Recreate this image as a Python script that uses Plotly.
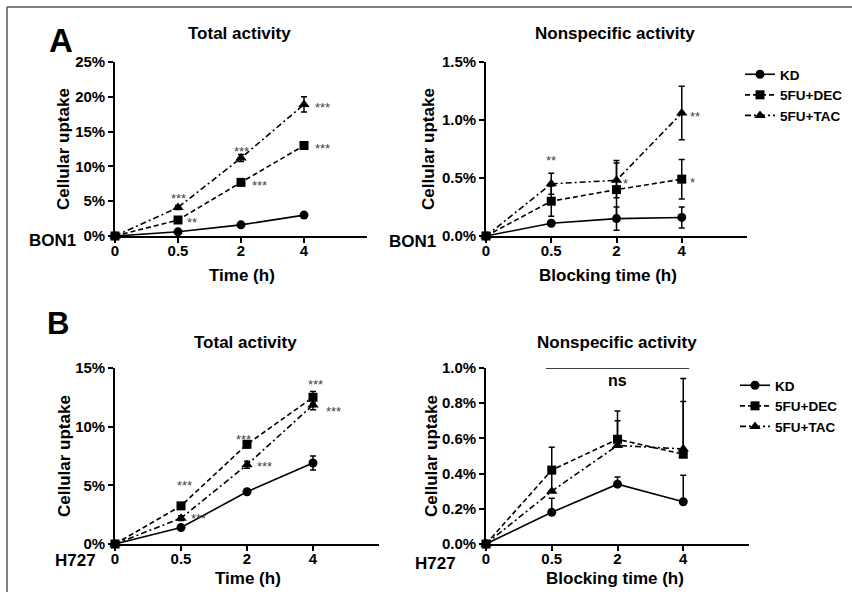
import plotly.graph_objects as go

W, H = 852, 601

# ---------------- data ----------------
time_labels = ["0", "0.5", "2", "4"]
series_names = ["KD", "5FU+DEC", "5FU+TAC"]

# Panel A (BON1) total activity, % uptake
a_total_kd = [0, 0.6, 1.6, 3.0]
a_total_dec = [0, 2.3, 7.7, 13.0]
a_total_tac = [0, 4.1, 11.2, 18.9]
a_total_kd_err = [0, 0.05, 0.1, 0.2]
a_total_dec_err = [0, 0.2, 0.3, 0.3]
a_total_tac_err = [0, 0.3, 0.5, 1.1]

# Panel A (BON1) nonspecific activity
a_ns_kd = [0, 0.11, 0.15, 0.16]
a_ns_dec = [0, 0.30, 0.40, 0.49]
a_ns_tac = [0, 0.45, 0.48, 1.06]
a_ns_kd_err = [0, 0.02, 0.10, 0.09]
a_ns_dec_err = [0, 0.13, 0.25, 0.17]
a_ns_tac_err = [0, 0.09, 0.15, 0.23]

# Panel B (H727) total activity
b_total_kd = [0, 1.4, 4.45, 6.9]
b_total_dec = [0, 3.25, 8.5, 12.5]
b_total_tac = [0, 2.2, 6.75, 11.85]
b_total_kd_err = [0, 0.1, 0.15, 0.6]
b_total_dec_err = [0, 0.2, 0.3, 0.5]
b_total_tac_err = [0, 0.2, 0.3, 0.4]

# Panel B (H727) nonspecific activity (upper error only)
b_ns_kd = [0, 0.18, 0.34, 0.24]
b_ns_dec = [0, 0.42, 0.595, 0.51]
b_ns_tac = [0, 0.30, 0.56, 0.54]
b_ns_kd_err = [0, 0.08, 0.04, 0.15]
b_ns_dec_err = [0, 0.13, 0.16, 0.43]
b_ns_tac_err = [0, 0.10, 0.14, 0.27]

# ---------------- styles ----------------
FONT = "Liberation Sans, Arial, sans-serif"
styles = {
    "KD": dict(symbol="circle", size=9, dash="solid"),
    "5FU+DEC": dict(symbol="square", size=9, dash="5px,3px"),
    "5FU+TAC": dict(symbol="triangle-up", size=10, dash="6px,3px,2px,3px"),
}

fig = go.Figure()


def add_panel(xa, ya, values, errs, legend=None, up_only=False):
    for name, yv, ev in zip(series_names, values, errs):
        st = styles[name]
        err = dict(type="data", array=ev, color="black", thickness=1.5, width=3, visible=True)
        if up_only:
            err["symmetric"] = False
            err["arrayminus"] = [0] * len(ev)
        fig.add_trace(go.Scatter(
            x=time_labels, y=yv, name=name, mode="lines+markers",
            xaxis=xa, yaxis=ya,
            line=dict(color="black", width=1.6, dash=st["dash"]),
            marker=dict(symbol=st["symbol"], size=st["size"], color="black"),
            error_y=err, cliponaxis=False,
            showlegend=legend is not None,
            legend=legend if legend else "legend",
        ))


add_panel("x", "y", [a_total_kd, a_total_dec, a_total_tac],
          [a_total_kd_err, a_total_dec_err, a_total_tac_err])
add_panel("x2", "y2", [a_ns_kd, a_ns_dec, a_ns_tac],
          [a_ns_kd_err, a_ns_dec_err, a_ns_tac_err], legend="legend")
add_panel("x3", "y3", [b_total_kd, b_total_dec, b_total_tac],
          [b_total_kd_err, b_total_dec_err, b_total_tac_err])
add_panel("x4", "y4", [b_ns_kd, b_ns_dec, b_ns_tac],
          [b_ns_kd_err, b_ns_dec_err, b_ns_tac_err], legend="legend2", up_only=True)


def px_x(p):
    return p / W


def px_y(p):
    return 1 - p / H


tickfont = dict(family=FONT, size=15, color="black", weight="bold")
common_x = dict(type="category", range=[0, 4], showline=True, linecolor="black", linewidth=1.6,
                ticks="outside", ticklen=5, tickwidth=1.6, tickcolor="black", automargin=False,
                showgrid=False, zeroline=False, tickfont=tickfont, fixedrange=True,
                ticklabelstandoff=-5)
common_y = dict(showline=True, linecolor="black", linewidth=1.6, automargin=False,
                ticks="outside", ticklen=5, tickwidth=1.6, tickcolor="black",
                showgrid=False, zeroline=False, tickfont=tickfont, ticksuffix="%",
                fixedrange=True)

legfont = dict(family=FONT, size=13.5, color="black", weight="bold")
fig.update_layout(
    width=W, height=H, margin=dict(l=0, r=0, t=0, b=0, pad=0, autoexpand=False),
    paper_bgcolor="white", plot_bgcolor="white",
    xaxis=dict(common_x, domain=[px_x(115), px_x(367)], anchor="y"),
    yaxis=dict(common_y, domain=[px_y(236), px_y(62)], anchor="x", range=[0, 25],
               tickmode="linear", tick0=0, dtick=5),
    xaxis2=dict(common_x, domain=[px_x(486), px_x(747)], anchor="y2"),
    yaxis2=dict(common_y, domain=[px_y(236), px_y(62)], anchor="x2", range=[0, 1.5],
                tickmode="linear", tick0=0, dtick=0.5, tickformat=".1f"),
    xaxis3=dict(common_x, domain=[px_x(115), px_x(379)], anchor="y3"),
    yaxis3=dict(common_y, domain=[px_y(544), px_y(368)], anchor="x3", range=[0, 15],
                tickmode="linear", tick0=0, dtick=5),
    xaxis4=dict(common_x, domain=[px_x(486), px_x(749)], anchor="y4"),
    yaxis4=dict(common_y, domain=[px_y(544), px_y(368)], anchor="x4", range=[0, 1.0],
                tickmode="linear", tick0=0, dtick=0.2, tickformat=".1f"),
    legend=dict(x=px_x(740), y=px_y(59), xanchor="left", yanchor="top",
                font=legfont, itemwidth=30, tracegroupgap=0, bgcolor="rgba(0,0,0,0)"),
    legend2=dict(x=px_x(735), y=px_y(370), xanchor="left", yanchor="top",
                 font=legfont, itemwidth=30, tracegroupgap=0, bgcolor="rgba(0,0,0,0)"),
    showlegend=True,
)

annotations = []


def text_px(x, y, text, size=17, angle=0):
    annotations.append(dict(xref="paper", yref="paper", x=px_x(x), y=px_y(y), text=text,
                            showarrow=False, xanchor="center", yanchor="middle",
                            textangle=angle,
                            font=dict(family=FONT, size=size, color="black", weight="bold")))


# panel letters
text_px(61, 41, "A", size=33)
text_px(58, 323, "B", size=31)
# titles
text_px(239, 34, "Total activity")
text_px(615, 34, "Nonspecific activity")
text_px(245, 342, "Total activity")
text_px(617, 342, "Nonspecific activity")
# y titles
text_px(63, 149, "Cellular uptake", angle=-90)
text_px(428, 149, "Cellular uptake", angle=-90)
text_px(64, 456, "Cellular uptake", angle=-90)
text_px(431, 456, "Cellular uptake", angle=-90)
# x titles
text_px(242, 275, "Time (h)")
text_px(608, 275, "Blocking time (h)")
text_px(248, 578, "Time (h)")
text_px(615, 578, "Blocking time (h)")
# cell line labels
text_px(52, 240, "BON1")
text_px(412, 241, "BON1")
text_px(75, 560, "H727")
text_px(436, 563, "H727")


def star(xa, ya, xcat, yval, text, dx, dy):
    annotations.append(dict(xref=xa, yref=ya, x=time_labels.index(xcat), y=yval, text=text,
                            showarrow=False, xanchor="center", yanchor="middle",
                            xshift=dx, yshift=dy - 3,
                            font=dict(family=FONT, size=13, color="#444444")))


# Panel A total
star("x", "y", "0.5", a_total_tac[1], "***", 0, 12)
star("x", "y", "0.5", a_total_dec[1], "**", 14, 0)
star("x", "y", "2", a_total_tac[2], "***", 0, 10)
star("x", "y", "2", a_total_dec[2], "***", 18, 0)
star("x", "y", "4", a_total_tac[3], "***", 18, 0)
star("x", "y", "4", a_total_dec[3], "***", 18, 0)
# Panel A nonspecific
star("x2", "y2", "0.5", a_ns_tac[1], "**", 0, 26)
star("x2", "y2", "2", a_ns_tac[2], "*", 9, 0)
star("x2", "y2", "4", a_ns_dec[3], "*", 11, 0)
star("x2", "y2", "4", a_ns_tac[3], "**", 13, 0)
# Panel B total
star("x3", "y3", "0.5", b_total_dec[1], "***", 3, 23)
star("x3", "y3", "0.5", b_total_tac[1], "***", 17, 3)
star("x3", "y3", "2", b_total_dec[2], "***", -4, 8)
star("x3", "y3", "2", b_total_tac[2], "***", 17, 1)
star("x3", "y3", "4", b_total_dec[3], "***", 2, 16)
star("x3", "y3", "4", b_total_tac[3], "***", 20, -4)

# ns label in panel B nonspecific
annotations.append(dict(xref="x4", yref="y4", x=time_labels.index("2"), y=1.0, text="ns",
                        showarrow=False, xanchor="center", yanchor="middle", yshift=-12,
                        font=dict(family=FONT, size=16, color="black", weight="bold")))

shapes = [
    dict(type="line", xref="x4", yref="y4", x0=0.91, x1=3.09, y0=1.0, y1=1.0,
         line=dict(color="black", width=1.5)),
    # outer frame (top and left edges)
    dict(type="line", xref="paper", yref="paper", x0=px_x(7), x1=1.01, y0=px_y(7), y1=px_y(7),
         line=dict(color="#555555", width=1.5)),
    dict(type="line", xref="paper", yref="paper", x0=px_x(7), x1=px_x(7), y0=px_y(7), y1=px_y(592),
         line=dict(color="#555555", width=1.5)),
]

fig.update_layout(annotations=annotations, shapes=shapes)

fig.write_html("out.html", post_script="document.body.style.margin='0';",
               config={"displayModeBar": False})
